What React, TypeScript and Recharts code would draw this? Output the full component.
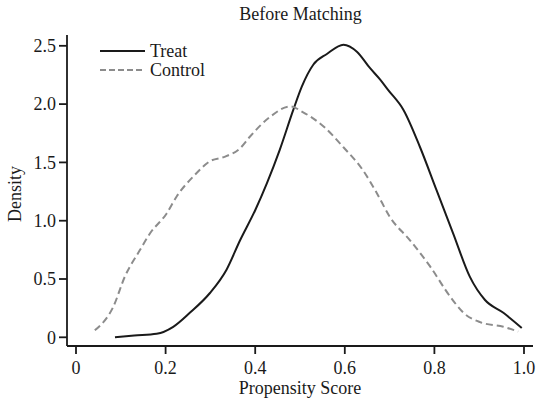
import React from 'react';
import { LineChart, Line, XAxis, YAxis, Label } from 'recharts';

// density estimates
const treatX = [0.087, 0.13, 0.18, 0.217, 0.254, 0.299, 0.336, 0.366, 0.4, 0.426, 0.455, 0.485, 0.504, 0.53, 0.56, 0.597, 0.627, 0.656, 0.679, 0.697, 0.731, 0.768, 0.805, 0.842, 0.879, 0.913, 0.954, 0.995];
const treatY = [0.0, 0.015, 0.03, 0.09, 0.21, 0.38, 0.58, 0.83, 1.09, 1.32, 1.61, 1.95, 2.15, 2.34, 2.43, 2.51, 2.45, 2.31, 2.21, 2.12, 1.95, 1.63, 1.26, 0.89, 0.52, 0.32, 0.21, 0.08];

const controlX = [0.042, 0.083, 0.109, 0.143, 0.165, 0.202, 0.225, 0.262, 0.299, 0.333, 0.366, 0.388, 0.433, 0.478, 0.507, 0.552, 0.597, 0.641, 0.671, 0.701, 0.746, 0.79, 0.835, 0.865, 0.902, 0.954, 0.987];
const controlY = [0.06, 0.26, 0.52, 0.75, 0.89, 1.06, 1.21, 1.38, 1.51, 1.55, 1.62, 1.72, 1.89, 1.98, 1.93, 1.81, 1.63, 1.43, 1.24, 1.03, 0.83, 0.61, 0.35, 0.21, 0.13, 0.09, 0.05];

const xTicks = [0, 0.2, 0.4, 0.6, 0.8, 1.0];
const xTickLabels = ['0', '0.2', '0.4', '0.6', '0.8', '1.0'];
const yTicks = [0, 0.5, 1.0, 1.5, 2.0, 2.5];
const yTickLabels = ['0', '0.5', '1.0', '1.5', '2.0', '2.5'];

const seriesNames = ['Treat', 'Control'];

const treatData = treatX.map((x, i) => ({ x, y: treatY[i] }));
const controlData = controlX.map((x, i) => ({ x, y: controlY[i] }));

const FONT = '"Liberation Serif", "Times New Roman", serif';
const INK = '#1a1a1a';
const GREY = '#8c8c8c';

const legendStyles = [
  { color: INK, dash: undefined },
  { color: GREY, dash: '6 3' },
];

function LegendBox() {
  return (
    <div
      style={{
        position: 'absolute',
        left: 100,
        top: 42,
        fontFamily: FONT,
        fontSize: 18,
        color: INK,
        lineHeight: '18.5px',
      }}
    >
      {seriesNames.map((name, i) => (
        <div key={name} style={{ display: 'flex', alignItems: 'center', height: 18.5 }}>
          <svg width={50} height={18}>
            <line
              x1={0}
              x2={45}
              y1={9}
              y2={9}
              stroke={legendStyles[i].color}
              strokeWidth={2}
              strokeDasharray={legendStyles[i].dash}
            />
          </svg>
          <span>{name}</span>
        </div>
      ))}
    </div>
  );
}

export default function App() {
  const tickStyle = { fontFamily: FONT, fontSize: 18, fill: INK };
  return (
    <div style={{ position: 'absolute', left: 0, top: 0, width: 537, height: 401, background: '#fff' }}>
      <div
        style={{
          position: 'absolute',
          left: 0,
          top: 4,
          width: 537,
          paddingLeft: 64,
          boxSizing: 'border-box',
          textAlign: 'center',
          fontFamily: FONT,
          fontSize: 18,
          color: INK,
        }}
      >
        Before Matching
      </div>
      <LineChart width={537} height={401} margin={{ top: 35, right: 4, bottom: 0, left: 0 }}>
        <XAxis
          type="number"
          dataKey="x"
          domain={[-0.0201, 1.0201]}
          ticks={xTicks}
          tickFormatter={(v: number) => xTickLabels[xTicks.indexOf(v)] ?? String(v)}
          allowDataOverflow
          height={55}
          tickSize={8}
          tickMargin={7}
          tick={tickStyle}
          stroke={INK}
          strokeWidth={1.8}
        >
          <Label
            content={() => (
              <text x={300} y={394} textAnchor="middle" fontFamily={FONT} fontSize={18} fill={INK}>
                Propensity Score
              </text>
            )}
          />
        </XAxis>
        <YAxis
          type="number"
          dataKey="y"
          domain={[-0.0746, 2.5927]}
          ticks={yTicks}
          tickFormatter={(v: number) => yTickLabels[yTicks.indexOf(v)] ?? String(v)}
          allowDataOverflow
          width={67}
          tickSize={8}
          tickMargin={3}
          tick={tickStyle}
          stroke={INK}
          strokeWidth={1.8}
        >
          <Label
            content={() => (
              <text
                x={21}
                y={194}
                textAnchor="middle"
                transform="rotate(-90, 21, 194)"
                fontFamily={FONT}
                fontSize={18}
                fill={INK}
              >
                Density
              </text>
            )}
          />
        </YAxis>
        <Line
          data={treatData}
          dataKey="y"
          name="Treat"
          type="monotone"
          stroke={INK}
          strokeWidth={2}
          dot={false}
          isAnimationActive={false}
        />
        <Line
          data={controlData}
          dataKey="y"
          name="Control"
          type="monotone"
          stroke={GREY}
          strokeWidth={2}
          strokeDasharray="7 4"
          dot={false}
          isAnimationActive={false}
        />
      </LineChart>
      <LegendBox />
    </div>
  );
}
